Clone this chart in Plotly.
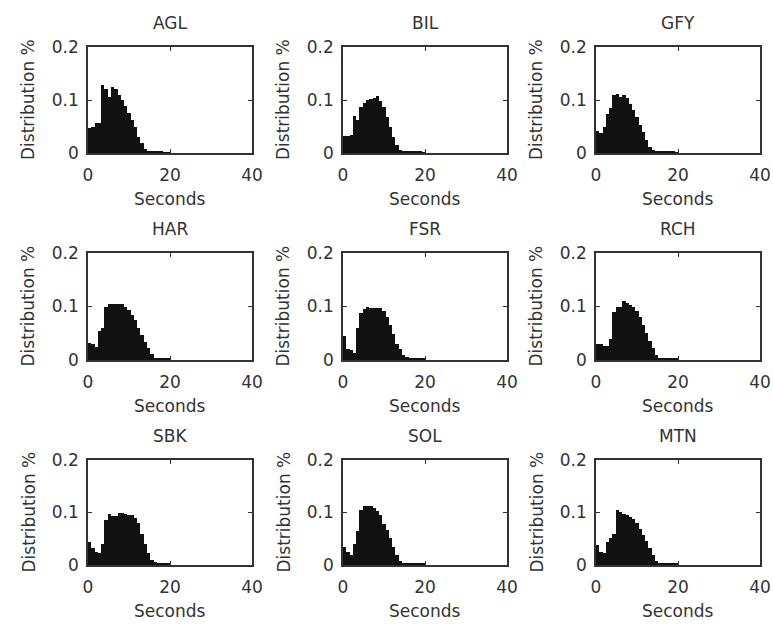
import numpy as np
import plotly.graph_objects as go

# ---- data (histogram bin heights, bin width 0.8 s, bins from 0 to 20 s) ----
BIN_WIDTH = 0.8
site_names = ["AGL", "BIL", "GFY", "HAR", "FSR", "RCH", "SBK", "SOL", "MTN"]

AGL = [0.048, 0.050, 0.056, 0.056, 0.128, 0.120, 0.106, 0.125, 0.120, 0.110, 0.100, 0.089, 0.076,
       0.062, 0.050, 0.031, 0.018, 0.008, 0.003, 0.002, 0.002, 0.002, 0.002, 0.001, 0.001]
BIL = [0.033, 0.033, 0.034, 0.070, 0.062, 0.087, 0.095, 0.100, 0.102, 0.104, 0.108, 0.099, 0.087,
       0.068, 0.049, 0.030, 0.015, 0.006, 0.003, 0.003, 0.003, 0.002, 0.002, 0.002, 0.001]
GFY = [0.042, 0.038, 0.050, 0.073, 0.085, 0.110, 0.112, 0.106, 0.110, 0.103, 0.093, 0.081, 0.068,
       0.053, 0.040, 0.025, 0.012, 0.005, 0.003, 0.003, 0.003, 0.002, 0.002, 0.002, 0.001]
HAR = [0.032, 0.030, 0.025, 0.055, 0.060, 0.100, 0.104, 0.104, 0.104, 0.104, 0.104, 0.099, 0.093,
       0.084, 0.075, 0.059, 0.047, 0.034, 0.022, 0.011, 0.004, 0.003, 0.003, 0.002, 0.002]
FSR = [0.044, 0.020, 0.019, 0.014, 0.060, 0.088, 0.096, 0.100, 0.098, 0.098, 0.098, 0.097, 0.092,
       0.080, 0.065, 0.048, 0.030, 0.020, 0.010, 0.006, 0.004, 0.004, 0.003, 0.003, 0.002]
RCH = [0.030, 0.029, 0.027, 0.027, 0.040, 0.090, 0.099, 0.100, 0.110, 0.106, 0.102, 0.100, 0.092,
       0.080, 0.066, 0.050, 0.036, 0.022, 0.010, 0.004, 0.004, 0.004, 0.003, 0.003, 0.002]
SBK = [0.043, 0.032, 0.024, 0.022, 0.040, 0.085, 0.097, 0.094, 0.094, 0.100, 0.099, 0.097, 0.096,
       0.095, 0.090, 0.080, 0.060, 0.040, 0.022, 0.010, 0.005, 0.003, 0.003, 0.002, 0.002]
SOL = [0.035, 0.025, 0.019, 0.040, 0.065, 0.105, 0.112, 0.112, 0.112, 0.108, 0.102, 0.095, 0.079,
       0.067, 0.051, 0.035, 0.019, 0.008, 0.004, 0.003, 0.003, 0.003, 0.002, 0.002, 0.002]
MTN = [0.038, 0.025, 0.022, 0.044, 0.052, 0.060, 0.104, 0.101, 0.097, 0.095, 0.091, 0.087, 0.080,
       0.068, 0.058, 0.046, 0.033, 0.020, 0.007, 0.003, 0.003, 0.003, 0.002, 0.002, 0.002]

site_values = [AGL, BIL, GFY, HAR, FSR, RCH, SBK, SOL, MTN]

x_tick_vals = [0, 20, 40]
x_tick_text = ["0", "20", "40"]
y_tick_vals = [0, 0.1, 0.2]
y_tick_text = ["0", "0.1", "0.2"]
x_title = "Seconds"
y_title = "Distribution %"

# ---- layout geometry (pixels) ----
W, H = 773, 625
col_px = [(88, 252), (343, 507), (596, 760)]
row_px = [(47, 153), (253, 360), (460, 565)]

FONT = "DejaVu Sans"
FS = 17
TXT = "#333333"
LINE = "#333333"

fig = go.Figure()
annotations = []
layout_axes = {}

for i, (name, vals) in enumerate(zip(site_names, site_values)):
    r, c = divmod(i, 3)
    x0, x1 = col_px[c]
    top, bot = row_px[r]
    xa = "x" if i == 0 else f"x{i+1}"
    ya = "y" if i == 0 else f"y{i+1}"
    centers = (np.arange(len(vals)) + 0.5) * BIN_WIDTH
    fig.add_trace(go.Bar(
        x=centers, y=vals, width=BIN_WIDTH,
        marker=dict(color="#111111", line=dict(width=0)),
        xaxis=xa, yaxis=ya, showlegend=False,
    ))
    xkey = "xaxis" if i == 0 else f"xaxis{i+1}"
    ykey = "yaxis" if i == 0 else f"yaxis{i+1}"
    layout_axes[xkey] = dict(
        domain=[x0 / W, x1 / W], anchor=ya, range=[0, 40],
        tickvals=x_tick_vals, ticktext=x_tick_text,
        ticks="inside", ticklen=4, tickcolor=LINE, tickwidth=1,
        showline=True, linecolor=LINE, linewidth=1.5, mirror="ticks",
        showgrid=False, zeroline=False, fixedrange=True, automargin=False,
        tickfont=dict(family=FONT, size=FS, color=TXT),
        ticklabelstandoff=6, ticklabeloverflow="allow",
    )
    layout_axes[ykey] = dict(
        domain=[1 - bot / H, 1 - top / H], anchor=xa, range=[0, 0.2],
        tickvals=y_tick_vals, ticktext=y_tick_text,
        ticks="inside", ticklen=4, tickcolor=LINE, tickwidth=1,
        showline=True, linecolor=LINE, linewidth=1.5, mirror="ticks",
        showgrid=False, zeroline=False, fixedrange=True, automargin=False,
        tickfont=dict(family=FONT, size=FS, color=TXT),
        ticklabelstandoff=4, ticklabeloverflow="allow",
    )
    cx = (x0 + x1) / 2
    # subplot title
    annotations.append(dict(
        text=name, x=cx / W, y=1 - (top - 24) / H, xref="paper", yref="paper",
        xanchor="center", yanchor="middle", showarrow=False,
        font=dict(family=FONT, size=FS, color=TXT)))
    # x axis title
    annotations.append(dict(
        text=x_title, x=cx / W, y=1 - (bot + 46) / H, xref="paper", yref="paper",
        xanchor="center", yanchor="middle", showarrow=False,
        font=dict(family=FONT, size=FS, color=TXT)))
    # y axis title
    annotations.append(dict(
        text=y_title, x=(x0 - 60) / W, y=1 - ((top + bot) / 2) / H, xref="paper", yref="paper",
        xanchor="center", yanchor="middle", showarrow=False, textangle=-90,
        font=dict(family=FONT, size=FS, color=TXT)))

fig.update_layout(
    width=W, height=H,
    margin=dict(l=0, r=0, t=0, b=0, autoexpand=False),
    paper_bgcolor="white", plot_bgcolor="white",
    bargap=0, showlegend=False,
    annotations=annotations,
    **layout_axes,
)

fig.write_html(
    "out.html",
    config={"displayModeBar": False},
    post_script="document.body.style.margin='0px';document.body.style.overflow='hidden';",
)
